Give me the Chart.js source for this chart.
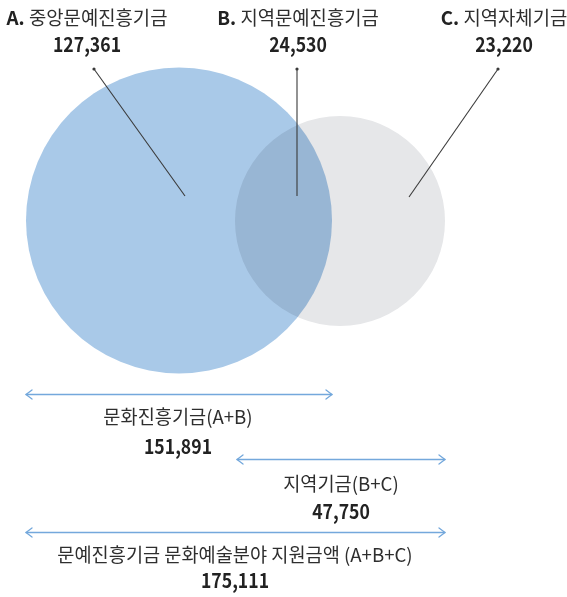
<!DOCTYPE html>
<html>
<head>
<meta charset="utf-8">
<script src="https://cdn.jsdelivr.net/npm/chart.js@4.4.1/dist/chart.umd.min.js"></script>
<style>
  html, body { margin: 0; padding: 0; background: #ffffff; }
  #wrap { width: 567px; height: 597px; position: relative; }
</style>
</head>
<body>
<div id="wrap"><canvas id="c"></canvas></div>
<script>
// ---- data ----
const setKeys = ['A', 'B', 'C'];
const setNames = ['중앙문예진흥기금', '지역문예진흥기금', '지역자체기금'];
const setValues = [127361, 24530, 23220];
const sumNames = ['문화진흥기금(A+B)', '지역기금(B+C)', '문예진흥기금 문화예술분야 지원금액 (A+B+C)'];
const sumValues = [151891, 47750, 175111];

// ---- layout (in scale units; axes span the canvas) ----
const circleA = { cx: 179, cy: 220.5, r: 153, color: '#a9c9e8' };
const circleC = { cx: 340, cy: 221, r: 105, color: '#e6e7e9' };
const labelX = [87, 298, 504];
const labelY = 18, valueY = 44;
const leaders = [
  { x0: 94, y0: 69, x1: 185, y1: 196 },
  { x0: 297, y0: 69, x1: 297, y1: 196 },
  { x0: 498, y0: 69, x1: 409, y1: 197 }
];
const spans = [
  { x0: 26, x1: 332, y: 394, tx: 178, ty: 417, vy: 446 },
  { x0: 237, x1: 445, y: 459, tx: 341, ty: 484, vy: 511 },
  { x0: 26, x1: 445, y: 532, tx: 235, ty: 555, vy: 580 }
];

const FONT = '"Noto Sans CJK KR", "Noto Sans", sans-serif';
const fmt = v => v.toLocaleString('en-US');

function drawParts(ctx, parts, cx, cy, sx) {
  let w = 0;
  parts.forEach(p => { ctx.font = p.font; p.w = ctx.measureText(p.text).width; w += p.w; });
  ctx.save();
  ctx.translate(cx, cy);
  ctx.scale(sx, 1);
  let x = -w / 2;
  ctx.textBaseline = 'middle';
  ctx.textAlign = 'left';
  parts.forEach(p => { ctx.font = p.font; ctx.fillStyle = p.color; ctx.fillText(p.text, x, 0); x += p.w; });
  ctx.restore();
}

const vennPlugin = {
  id: 'venn',
  beforeDatasetsDraw(chart) {
    const { ctx, scales: { x, y } } = chart;
    const circ = (c, op) => {
      const px = x.getPixelForValue(c.cx), py = y.getPixelForValue(c.cy);
      const pr = Math.abs(x.getPixelForValue(c.cx + c.r) - px);
      ctx.save();
      ctx.globalCompositeOperation = op;
      ctx.beginPath();
      ctx.arc(px, py, pr, 0, Math.PI * 2);
      ctx.fillStyle = c.color;
      ctx.fill();
      ctx.restore();
    };
    circ(circleC, 'source-over');
    circ(circleA, 'multiply');
  },
  afterDatasetsDraw(chart) {
    const { ctx, scales: { x, y } } = chart;
    leaders.forEach(l => {
      const ax = x.getPixelForValue(l.x0), ay = y.getPixelForValue(l.y0);
      const bx = x.getPixelForValue(l.x1), by = y.getPixelForValue(l.y1);
      ctx.save();
      ctx.strokeStyle = '#3a3a3a';
      ctx.lineWidth = 1.1;
      ctx.beginPath(); ctx.moveTo(ax, ay); ctx.lineTo(bx, by); ctx.stroke();
      ctx.fillStyle = '#3a3a3a';
      ctx.beginPath(); ctx.arc(ax, ay, 1.6, 0, Math.PI * 2); ctx.fill();
      ctx.restore();
    });
    setKeys.forEach((k, i) => {
      const cx = x.getPixelForValue(labelX[i]);
      drawParts(ctx, [
        { text: k + '. ', font: 'bold 19px ' + FONT, color: '#222222' },
        { text: setNames[i], font: '19px ' + FONT, color: '#2e2e2e' }
      ], cx, y.getPixelForValue(labelY), 0.99);
      drawParts(ctx, [{ text: fmt(setValues[i]), font: 'bold 20px ' + FONT, color: '#222222' }],
        cx, y.getPixelForValue(valueY), 0.88);
    });
    spans.forEach((s, i) => {
      const ax = x.getPixelForValue(s.x0), bx = x.getPixelForValue(s.x1), py = Math.round(y.getPixelForValue(s.y)) + 0.5;
      ctx.save();
      ctx.strokeStyle = '#74a8dc';
      ctx.lineWidth = 1.3;
      ctx.lineCap = 'round';
      ctx.lineJoin = 'round';
      ctx.beginPath(); ctx.moveTo(ax, py); ctx.lineTo(bx, py); ctx.stroke();
      ctx.beginPath();
      ctx.moveTo(ax + 6, py - 4.5); ctx.lineTo(ax, py); ctx.lineTo(ax + 6, py + 4.5);
      ctx.moveTo(bx - 6, py - 4.5); ctx.lineTo(bx, py); ctx.lineTo(bx - 6, py + 4.5);
      ctx.stroke();
      ctx.restore();
      const tx = x.getPixelForValue(s.tx);
      drawParts(ctx, [{ text: sumNames[i], font: '19px ' + FONT, color: '#2e2e2e' }], tx, y.getPixelForValue(s.ty), 0.98);
      drawParts(ctx, [{ text: fmt(sumValues[i]), font: 'bold 20px ' + FONT, color: '#222222' }], tx, y.getPixelForValue(s.vy), 0.88);
    });
  }
};

new Chart(document.getElementById('c'), {
  type: 'scatter',
  data: { datasets: [{ data: [], pointRadius: 0 }] },
  options: {
    responsive: true,
    maintainAspectRatio: false,
    animation: false,
    layout: { padding: 0 },
    plugins: { legend: { display: false }, tooltip: { enabled: false }, title: { display: false } },
    scales: {
      x: { type: 'linear', min: 0, max: 567, display: false },
      y: { type: 'linear', min: 0, max: 597, reverse: true, display: false }
    }
  },
  plugins: [vennPlugin]
});
</script>
</body>
</html>
